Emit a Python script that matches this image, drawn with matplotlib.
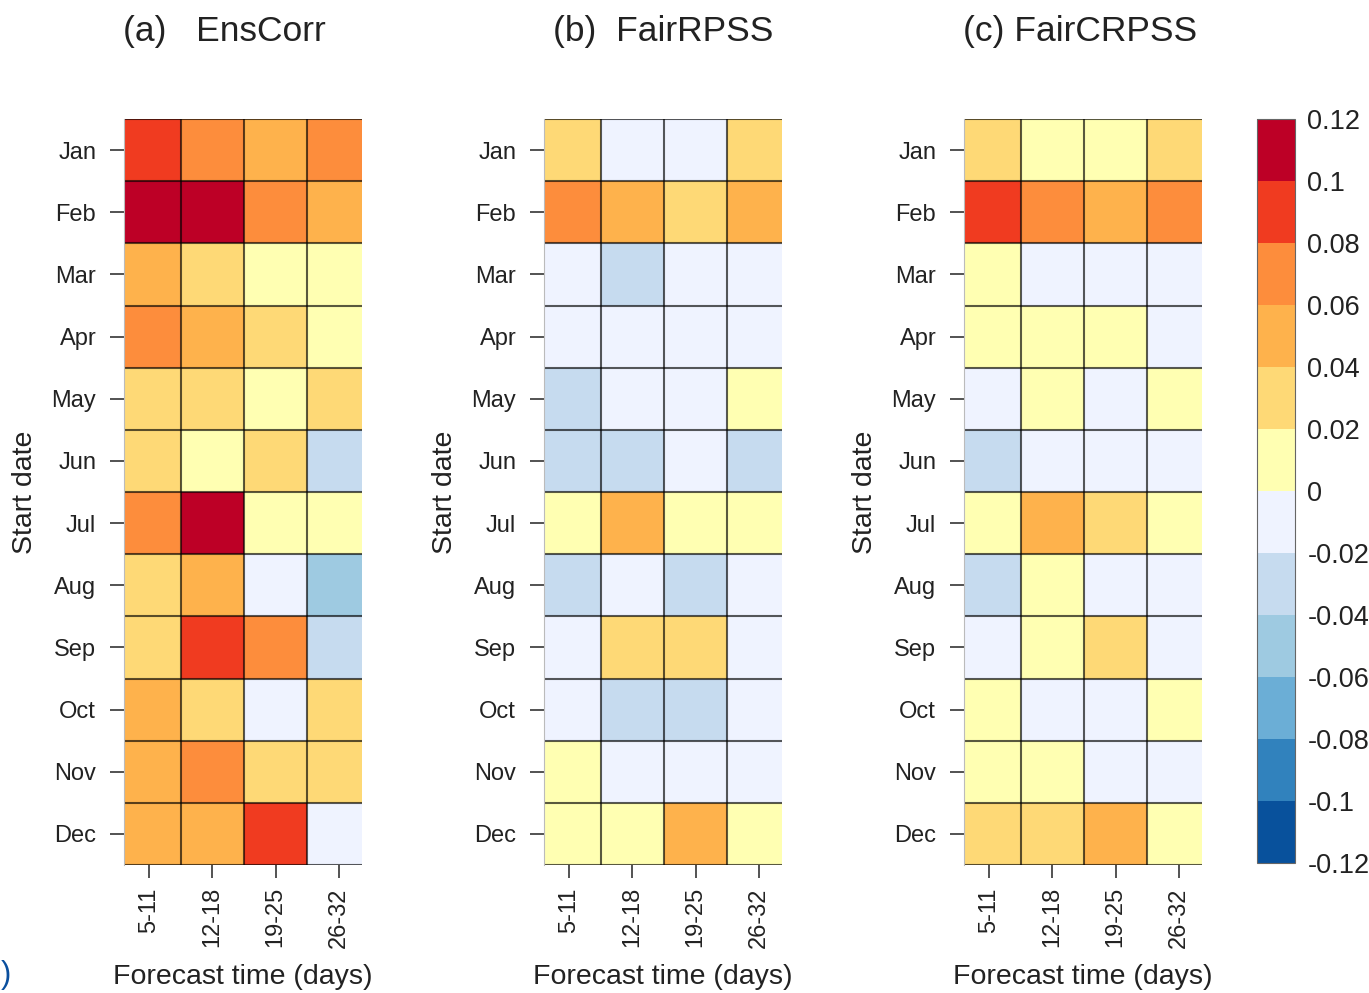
import matplotlib
matplotlib.use("Agg")
import matplotlib.pyplot as plt
import numpy as np
from matplotlib.colors import BoundaryNorm, ListedColormap
from matplotlib.cm import ScalarMappable

plt.rcParams["font.family"] = ["Liberation Sans", "DejaVu Sans"]

months = ["Jan", "Feb", "Mar", "Apr", "May", "Jun",
          "Jul", "Aug", "Sep", "Oct", "Nov", "Dec"]
leads = ["5-11", "12-18", "19-25", "26-32"]
titles = ["(a)   EnsCorr", "(b)  FairRPSS", "(c) FairCRPSS"]

levels = [-0.12, -0.10, -0.08, -0.06, -0.04, -0.02, 0.0,
          0.02, 0.04, 0.06, 0.08, 0.10, 0.12]
level_labels = ["-0.12", "-0.1", "-0.08", "-0.06", "-0.04", "-0.02", "0",
                "0.02", "0.04", "0.06", "0.08", "0.1", "0.12"]
colors = ["#08519c", "#3182bd", "#6baed6", "#9ecae1", "#c6dbef", "#eff3ff",
          "#ffffb2", "#fed976", "#feb24c", "#fd8d3c", "#f03b20", "#bd0026"]

# skill per start month (rows) and forecast week (columns)
ens_corr = [
    [0.09, 0.07, 0.05, 0.07],
    [0.11, 0.11, 0.07, 0.05],
    [0.05, 0.03, 0.01, 0.01],
    [0.07, 0.05, 0.03, 0.01],
    [0.03, 0.03, 0.01, 0.03],
    [0.03, 0.01, 0.03, -0.03],
    [0.07, 0.11, 0.01, 0.01],
    [0.03, 0.05, -0.01, -0.05],
    [0.03, 0.09, 0.07, -0.03],
    [0.05, 0.03, -0.01, 0.03],
    [0.05, 0.07, 0.03, 0.03],
    [0.05, 0.05, 0.09, -0.01],
]
fair_rpss = [
    [0.03, -0.01, -0.01, 0.03],
    [0.07, 0.05, 0.03, 0.05],
    [-0.01, -0.03, -0.01, -0.01],
    [-0.01, -0.01, -0.01, -0.01],
    [-0.03, -0.01, -0.01, 0.01],
    [-0.03, -0.03, -0.01, -0.03],
    [0.01, 0.05, 0.01, 0.01],
    [-0.03, -0.01, -0.03, -0.01],
    [-0.01, 0.03, 0.03, -0.01],
    [-0.01, -0.03, -0.03, -0.01],
    [0.01, -0.01, -0.01, -0.01],
    [0.01, 0.01, 0.05, 0.01],
]
fair_crpss = [
    [0.03, 0.01, 0.01, 0.03],
    [0.09, 0.07, 0.05, 0.07],
    [0.01, -0.01, -0.01, -0.01],
    [0.01, 0.01, 0.01, -0.01],
    [-0.01, 0.01, -0.01, 0.01],
    [-0.03, -0.01, -0.01, -0.01],
    [0.01, 0.05, 0.03, 0.01],
    [-0.03, 0.01, -0.01, -0.01],
    [-0.01, 0.01, 0.03, -0.01],
    [0.01, -0.01, -0.01, 0.01],
    [0.01, 0.01, -0.01, -0.01],
    [0.03, 0.03, 0.05, 0.01],
]

W, H = 1369, 993
cmap = ListedColormap(colors)
norm = BoundaryNorm(levels, cmap.N)
txt = "#222222"

fig = plt.figure(figsize=(W / 100, H / 100), dpi=100)


def fx(px):
    return px / W


def fy(py):
    return 1 - py / H


panel_left = [124, 544, 964]
title_left = [123, 553, 963]
ax_w = 237.7
ax_top, ax_bot = 119, 865

for left, tleft, title, data in zip(panel_left, title_left, titles,
                                    [ens_corr, fair_rpss, fair_crpss]):
    ax = fig.add_axes([fx(left), fy(ax_bot), ax_w / W, (ax_bot - ax_top) / H])
    vals = np.array(data)
    xe = np.arange(len(leads) + 1) - 0.5
    ye = np.arange(len(months) + 1) - 0.5
    ax.pcolormesh(xe, ye, vals, cmap=cmap, norm=norm, edgecolors="none")
    # cell borders
    ax.vlines(xe[1:-1], ye[0], ye[-1], color="black", alpha=0.65, lw=1.5)
    ax.hlines(ye, xe[0], xe[-1], color="black", alpha=0.65, lw=1.5)
    ax.set_xlim(-0.395, 3.36)
    ax.set_ylim(len(months) - 0.5, -0.5)
    for s in ax.spines.values():
        s.set_visible(False)
    ax.spines["left"].set_visible(True)
    ax.spines["left"].set_color("#bbbbbb")
    ax.spines["left"].set_linewidth(0.8)

    ax.set_xticks(range(len(leads)))
    ax.set_xticklabels(leads, rotation=90, fontsize=17, color=txt)
    ax.set_yticks(range(len(months)))
    ax.set_yticklabels(months, fontsize=17, color=txt)
    ax.tick_params(axis="y", length=10, width=1.3, pad=10, color="#444444")
    ax.tick_params(axis="x", length=9, width=1.3, pad=7, color="#444444")

    center = left + ax_w / 2
    fig.text(fx(center), fy(977), "Forecast time (days)", ha="center",
             va="center", fontsize=20.5, color=txt)
    fig.text(fx(left - 99), fy(492), "Start date", ha="center", va="center",
             rotation=90, fontsize=20.5, color=txt)
    fig.text(fx(tleft), fy(31), title, ha="left", va="center",
             fontsize=25.5, color=txt)

# discrete colour key
cax = fig.add_axes([fx(1257), fy(863), 38 / W, 744 / H])
cb = fig.colorbar(ScalarMappable(norm=norm, cmap=cmap), cax=cax,
                  ticks=levels, spacing="uniform")
cb.ax.set_yticklabels(level_labels, fontsize=19.5, color=txt)
cb.ax.tick_params(length=0, pad=9)
cb.outline.set_edgecolor("#666666")
cb.outline.set_linewidth(0.8)

fig.text(fx(0.5), fy(975), ")", ha="left", va="center", fontsize=22,
         color="#0a4f9e")

fig.savefig("out.png", dpi=100)
